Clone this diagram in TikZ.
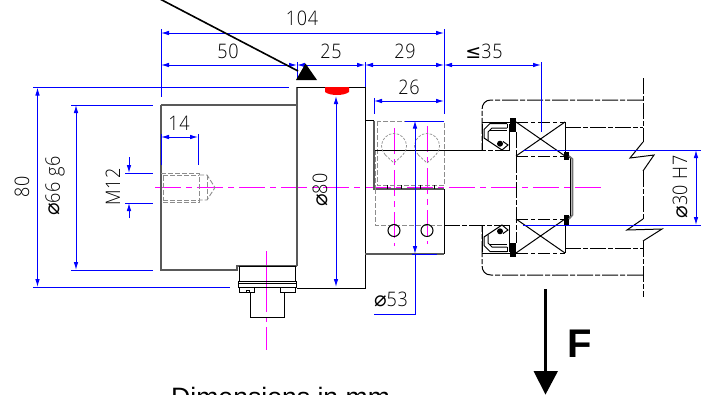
\documentclass[tikz,border=0pt]{standalone}
\usepackage{fontspec}
\setmainfont{Liberation Sans}
\newfontfamily\dimf{Open Sans Light}
\newfontfamily\symf{DejaVu Sans}
\usetikzlibrary{arrows.meta}
\definecolor{dimblue}{RGB}{0,0,255}
\definecolor{ctr}{RGB}{255,0,255}
\newcommand{\dimtext}[1]{\scalebox{.9}[1]{\dimf\fontsize{20}{20}\selectfont\addfontfeature{LetterSpace=4}#1}}
\newcommand{\diam}{{\symf\fontsize{21}{21}\selectfont ⌀}}
\newcommand{\lessq}{{\symf\fontsize{19}{19}\selectfont ≤}}
\tikzset{
  dimline/.style={draw=dimblue,line width=1pt},
  dimarrow/.style={dimline,{Latex[length=8pt,width=4.6pt]}-{Latex[length=8pt,width=4.6pt]}},
  toarrow/.style={dimline,-{Latex[length=8pt,width=4.6pt]}},
  ext/.style={draw=dimblue,line width=1pt},
  solidline/.style={draw=black,line width=1pt},
  thickgray/.style={draw=black!65,line width=1.3pt},
  hidden/.style={draw=black,line width=1pt,dash pattern=on 16pt off 2pt on 5pt off 2pt},
  hiddengray/.style={draw=black!45,line width=.9pt,dash pattern=on 5pt off 2pt},
  centreline/.style={draw=ctr,line width=1pt,dash pattern=on 26pt off 5pt on 6pt off 5pt},
  lbl/.style={inner sep=0pt,text=black},
}
\begin{document}
\begin{tikzpicture}[x=1pt,y=-1pt]
\useasboundingbox (0,0) rectangle (706,394);

% centre lines
\draw[centreline] (155,187.5) -- (605,187.5);
\draw[centreline] (394,128) -- (394,246);
\draw[centreline] (427,126) -- (427,244);
\draw[draw=ctr,line width=1pt] (266.7,251) -- (266.7,312) (266.7,317) -- (266.7,322) (266.7,327) -- (266.7,350);

% main body
\draw[thickgray] (161,105) -- (297,105) (161,105) -- (161,270) -- (237,270) -- (237,266) -- (297,266);
\draw[thickgray] (297,87) -- (297,266);
\draw[solidline] (297,87) -- (365,87) -- (365,288) -- (297,288);
\draw[solidline] (365,120.5) -- (374,120.5);
\draw[thickgray] (374,120.5) -- (374,189) -- (444,189);
\draw[solidline] (444,189) -- (444,254);
\draw[thickgray] (365,254) -- (444,254);

% connector
\draw[solidline] (239,266) rectangle (295,281);
\draw[solidline] (238,281) rectangle (296.5,287);
\draw[solidline] (238,283) -- (296.5,283);
\draw[solidline] (239,287) -- (239,292) -- (254,292) -- (254,287);
\draw[solidline] (280,287) -- (280,292) -- (295,292) -- (295,287);
\draw[solidline] (246,292) -- (246,290) -- (249,290) -- (249,292);
\draw[solidline] (250,292) -- (250,317) -- (284,317) -- (284,292);

% threaded hole
\draw[hiddengray] (161,173) -- (199,173) -- (199,202) -- (161,202);
\draw[hiddengray] (163,175.5) -- (163,200) (163,175.5) -- (199,175.5) (163,200) -- (199,200);
\draw[hiddengray] (199,175) -- (207,175) -- (215,187.5) -- (207,200) -- (199,200);
\draw[hiddengray] (207,175) -- (207,200);

% flange detail
\draw[hiddengray] (377,121) rectangle (444.5,185);
\draw[hiddengray] (375,189) -- (375,225) -- (444,225);
\foreach \tx in {387,401,420,434} \draw[solidline] (\tx,185) -- (\tx,189);
\draw[hiddengray] (375,150) -- (375,189);
\draw[solidline] (375,150) -- (470,150);
\draw[hidden] (470,150) -- (510,150);
\draw[hidden] (444,225) -- (510,225);
\foreach \cx in {394,427} {
  \draw[hiddengray,line width=.7pt,dash pattern=on 2.5pt off 1.5pt] (\cx-8.8,154.8) arc[start angle=135,end angle=405,radius=12.5] -- (\cx,163) -- cycle;
  \draw[solidline] (\cx,230.5) circle[radius=6];
}

% housing
\draw[hidden] (643,100) -- (491,100) .. controls (485,100) and (482,104) .. (482,110) -- (482,150);
\draw[hidden] (643,275) -- (491,275) .. controls (485,275) and (482,271) .. (482,265) -- (482,225);
\draw[solidline] (482,122) -- (510,122) (482,253) -- (510,253);
\draw[hidden] (565,127) -- (643,127);
\draw[hidden] (565,248) -- (643,248);
\draw[hidden] (643,78) -- (643,142);
\draw[solidline] (643,142) -- (630,158) -- (654,155) -- (643,171);
\draw[hidden] (643,171) -- (643,219);
\draw[solidline] (643,219) -- (627,230) -- (662,229) -- (643,241);
\draw[hidden] (643,241) -- (643,297);

% bearings
\foreach \ya/\yb in {122/156,219/253} {
  \draw[hidden,dash pattern=on 12pt off 3pt on 4pt off 3pt] (516,\ya) -- (565,\ya) (516,\yb) -- (565,\yb);
  \draw[solidline] (565,\ya) -- (565,\yb);
  \draw[solidline] (516,\ya) -- (565,\yb) (516,\yb) -- (565,\ya);
}
\draw[hidden] (516,132) -- (516,243);
\fill[black] (510,118) rectangle (516,132);
\fill[black] (510,243) rectangle (516,257);
\fill[black] (564,152) rectangle (569,160);
\fill[black] (564,215) rectangle (569,225);
\draw[solidline] (569,157) -- (570.5,158) -- (570.5,216) -- (569,218);
\draw[draw=black!55,line width=1.6pt] (569,156) -- (572.5,159) -- (572.5,215) -- (569,219);

% seals
\foreach \flip in {1,-1} {
\begin{scope}[shift={(0,187.5)},yscale=\flip]
  \draw[solidline] (482,-37.5) -- (482,-64);
  \draw[solidline] (507,-64) -- (490,-64) -- (484,-58) -- (484,-49.5) -- (502,-37.5) -- (508,-42.5) -- (503,-46);
  \draw[solidline] (507,-59.5) -- (492,-59.5) -- (488,-55.5) -- (488,-47);
  \draw[solidline] (507,-64) -- (507,-59.5);
  \draw[solidline] (490,-57) -- (507,-57);
  \draw[solidline] (509,-64) -- (509,-37.5);
  \fill[black] (500,-43.8) circle[radius=3];
\end{scope}
}

% red cap
\fill[red] (325,87) -- (349,87) -- (349,92) .. controls (344,96) and (330,96) .. (325,92) -- cycle;

% dimensions
\draw[dimarrow] (161,33) -- (444,33);
\draw[dimarrow] (161,65) -- (297,65);
\draw[dimarrow] (297,65) -- (365,65);
\draw[dimarrow] (365,65) -- (444,65);
\draw[dimarrow] (444,65) -- (541,65);
\draw[dimarrow] (374,101) -- (444,101);
\draw[dimarrow] (161,137) -- (198,137);
\draw[ext] (161,29) -- (161,97);
\draw[ext] (444,29) -- (444,114);
\draw[ext] (297,62) -- (297,80);
\draw[ext] (365,62) -- (365,87);
\draw[ext] (541,62) -- (541,132);
\draw[ext] (374,98) -- (374,114);
\draw[ext] (198,134) -- (198,165);
\draw[ext] (161,134) -- (161,165);

\draw[dimarrow] (76,105) -- (76,270);
\draw[ext] (71,105) -- (153,105) (71,270) -- (153,270);
\draw[dimarrow] (37.5,87.5) -- (37.5,287);
\draw[ext] (33,87.5) -- (289,87.5) (33,287) -- (230,287);
\draw[dimarrow] (336,96) -- (336,287);
\draw[toarrow] (129,157) -- (129,173);
\draw[toarrow] (129,218) -- (129,203);
\draw[ext] (125,173) -- (153,173) (125,203) -- (153,203);

\draw[dimarrow] (415,120.5) -- (415,254);
\draw[ext] (415,254) -- (415,314) -- (374,314);
\draw[ext] (405,121) -- (444,121) (412,254) -- (437,254);

\draw[dimarrow] (696,150) -- (696,225);
\draw[ext] (523,150) -- (701,150) (523,225) -- (701,225);

% labels
\node[lbl] (l104) at (302,18) {\dimtext{104}};
\node[lbl] (l50) at (228,51) {\dimtext{50}};
\node[lbl] (l25) at (331,51) {\dimtext{25}};
\node[lbl] (l29) at (405,51) {\dimtext{29}};
\node[lbl] (l35) at (484,51) {\lessq\dimtext{35}};
\node[lbl] (l26) at (409,87) {\dimtext{26}};
\node[lbl] (l14) at (179,123) {\dimtext{14}};
\node[lbl,rotate=90] (l80) at (22,187) {\dimtext{80}};
\node[lbl,rotate=90] (l66) at (55,186) {\diam\dimtext{66 g6}};
\node[lbl,rotate=90] (lm12) at (113,187) {\dimtext{M12}};
\node[lbl,rotate=90] (ld80) at (320,190) {\diam\dimtext{80}};
\node[lbl] (l53) at (391,299) {\diam\dimtext{53}};
\node[lbl,rotate=90] (l30) at (680,187) {\diam\dimtext{30 H7}};

% black pointer
\coordinate (ptrstart) at (160,-1);
\coordinate (ptrend) at (298,71);
\draw[black,line width=1.6pt] (ptrstart) -- (ptrend);
\fill[black] (305.5,63.5) -- (317,80) -- (296,80) -- cycle;

% force
\coordinate (fstart) at (545.5,289);
\coordinate (ftip) at (545.5,394.5);
\draw[black,line width=3.5pt] (fstart) -- (545.5,373);
\fill[black] (533.5,371) -- (558,371) -- (ftip) -- cycle;
\node[lbl,font=\bfseries\fontsize{40}{40}\selectfont] (F) at (580,344) {F};

\node[lbl,anchor=base west,font=\fontsize{26.6}{27}\selectfont] (note) at (171,406) {Dimensions in mm};
\end{tikzpicture}
\end{document}
